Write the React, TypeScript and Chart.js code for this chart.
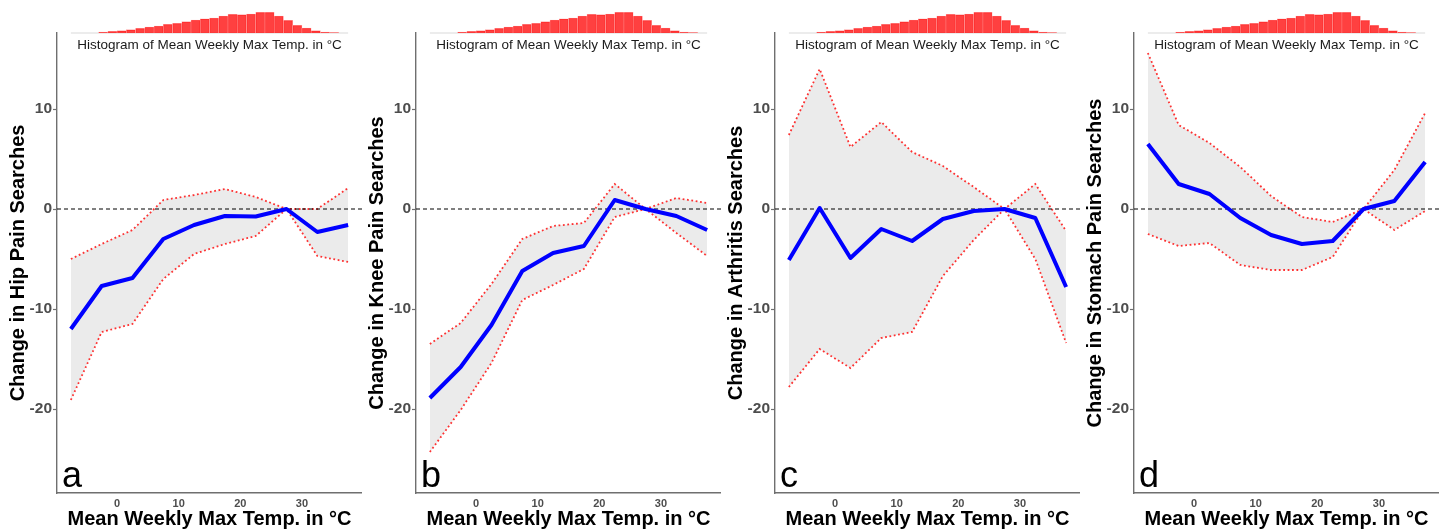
import { useEffect, useRef } from "react";
import { Chart, registerables } from "chart.js";

Chart.register(...registerables);
Chart.defaults.font.family = '"Liberation Sans", Arial, Helvetica, sans-serif';

// Temperature bin centres (°C) for the fitted curves
const tempBins = [-7.5, -2.5, 2.5, 7.5, 12.5, 17.5, 22.5, 27.5, 32.5, 37.5];
const xTickValues = [0, 10, 20, 30];
const yTickValues = [-20, -10, 0, 10];

// a: Hip pain
const hipFit = [-12.0, -7.7, -6.9, -3.0, -1.6, -0.7, -0.75, 0, -2.3, -1.6];
const hipUpper = [-5.0, -3.5, -2.1, 0.9, 1.4, 2.0, 1.2, 0, 0, 2.1];
const hipLower = [-19.1, -12.3, -11.5, -7.0, -4.5, -3.5, -2.7, 0, -4.7, -5.3];

// b: Knee pain
const kneeFit = [-18.9, -15.8, -11.6, -6.2, -4.4, -3.7, 0.9, 0, -0.7, -2.1];
const kneeUpper = [-13.5, -11.4, -7.5, -3.0, -1.7, -1.4, 2.5, 0, 1.1, 0.6];
const kneeLower = [-24.3, -20.1, -15.4, -9.1, -7.6, -6.0, -0.8, 0, -2.4, -4.7];

// c: Arthritis
const arthFit = [-5.1, 0.1, -4.9, -2.0, -3.2, -1.0, -0.2, 0, -0.9, -7.8];
const arthUpper = [7.4, 14.0, 6.2, 8.7, 5.7, 4.3, 2.2, 0, 2.5, -2.2];
const arthLower = [-17.8, -14.0, -15.9, -12.9, -12.3, -6.7, -3.1, 0, -5.0, -13.4];

// d: Stomach pain
const stomFit = [6.5, 2.5, 1.5, -0.9, -2.6, -3.5, -3.2, 0, 0.8, 4.7];
const stomUpper = [15.6, 8.4, 6.6, 4.2, 1.3, -0.8, -1.3, 0, 3.9, 9.6];
const stomLower = [-2.5, -3.7, -3.4, -5.6, -6.1, -6.1, -4.8, 0, -2.1, -0.2];

// Histogram of mean weekly max temperature (1.5 °C bins)
const histCenters = [
  -6.75, -5.25, -3.75, -2.25, -0.75, 0.75, 2.25, 3.75, 5.25, 6.75,
  8.25, 9.75, 11.25, 12.75, 14.25, 15.75, 17.25, 18.75, 20.25, 21.75,
  23.25, 24.75, 26.25, 27.75, 29.25, 30.75, 32.25, 33.75, 35.25, 36.75,
];
const histCounts = [
  0, 0, 0, 10, 17, 23, 33, 47, 60, 70,
  87, 97, 113, 130, 142, 150, 170, 187, 183, 190,
  207, 207, 170, 127, 77, 50, 23, 10, 3, 0,
];
const histBinWidth = 1.5;

const panelLetters = ["a", "b", "c", "d"];
const panelTitles = [
  "Change in Hip Pain Searches",
  "Change in Knee Pain Searches",
  "Change in Arthritis Searches",
  "Change in Stomach Pain Searches",
];
const panelSeries = [
  [hipFit, hipUpper, hipLower],
  [kneeFit, kneeUpper, kneeLower],
  [arthFit, arthUpper, arthLower],
  [stomFit, stomUpper, stomLower],
];

const panelLefts = [0, 359, 718, 1077];
const CANVAS_W = 362;
const CANVAS_H = 531;
const AXIS_COLOR = "#6f6f6f";
const CI_COLOR = "rgba(255,0,0,0.8)";

const toPts = (vals: number[]) => tempBins.map((x, i) => ({ x, y: vals[i] }));

function PanelChart({ index }: { index: number }) {
  const ref = useRef<HTMLCanvasElement>(null);
  useEffect(() => {
    const [fit, upper, lower] = panelSeries[index];
    const letter = panelLetters[index];

    const decor = {
      id: "decor",
      beforeDatasetsDraw(chart: any) {
        const { ctx, scales } = chart;
        const x = scales.x;
        const yh = scales.yh;
        const y0 = yh.getPixelForValue(0);
        ctx.save();
        ctx.strokeStyle = "#d9d9d9";
        ctx.lineWidth = 1;
        ctx.beginPath();
        ctx.moveTo(x.getPixelForValue(histCenters[0] - histBinWidth / 2), y0);
        ctx.lineTo(x.getPixelForValue(histCenters[histCenters.length - 1] + histBinWidth / 2), y0);
        ctx.stroke();
        ctx.restore();
      },
      beforeDatasetDraw(chart: any, args: any) {
        if (args.index !== 0) return;
        const { ctx, chartArea, scales } = chart;
        const py = scales.y.getPixelForValue(0);
        ctx.save();
        ctx.setLineDash([4, 3]);
        ctx.strokeStyle = "#000";
        ctx.lineWidth = 1;
        ctx.beginPath();
        ctx.moveTo(chartArea.left, py);
        ctx.lineTo(chartArea.right, py);
        ctx.stroke();
        ctx.restore();
      },
      afterDatasetsDraw(chart: any) {
        const { ctx, chartArea } = chart;
        ctx.save();
        ctx.font = '13.5px "Liberation Sans", Arial, sans-serif';
        ctx.fillStyle = "#1a1a1a";
        ctx.textAlign = "center";
        ctx.textBaseline = "alphabetic";
        ctx.fillText(
          "Histogram of Mean Weekly Max Temp. in °C",
          (chartArea.left + chartArea.right) / 2,
          chartArea.top + 16
        );
        ctx.font = '36px "Liberation Sans", Arial, sans-serif';
        ctx.fillStyle = "#000";
        ctx.textAlign = "left";
        ctx.fillText(letter, chartArea.left + 5, chartArea.bottom - 6.5);
        ctx.restore();
      },
    };

    const chart = new Chart(ref.current as HTMLCanvasElement, {
      type: "line",
      data: {
        datasets: [
          {
            label: "fit",
            data: toPts(fit),
            borderColor: "#0000ff",
            borderWidth: 4,
            pointRadius: 0,
            fill: false,
            tension: 0,
            borderJoinStyle: "round",
            yAxisID: "y",
          },
          {
            label: "upper",
            data: toPts(upper),
            borderColor: CI_COLOR,
            borderWidth: 1.8,
            borderDash: [1.8, 2.6],
            borderCapStyle: "butt",
            pointRadius: 0,
            fill: "+1",
            backgroundColor: "#ebebeb",
            tension: 0,
            yAxisID: "y",
          },
          {
            label: "lower",
            data: toPts(lower),
            borderColor: CI_COLOR,
            borderWidth: 1.8,
            borderDash: [1.8, 2.6],
            borderCapStyle: "butt",
            pointRadius: 0,
            fill: false,
            tension: 0,
            yAxisID: "y",
          },
          {
            type: "bar",
            label: "hist",
            data: histCenters.map((x, i) => ({ x, y: histCounts[i] })),
            yAxisID: "yh",
            backgroundColor: "rgba(255,0,0,0.75)",
            borderColor: "rgba(255,160,160,0.9)",
            borderWidth: 0.6,
            barPercentage: 1,
            categoryPercentage: 1,
            grouped: false,
            clip: false,
          } as any,
        ],
      },
      options: {
        responsive: false,
        animation: false,
        events: [],
        layout: { padding: { top: 33, left: 0, right: 0, bottom: 0 } },
        plugins: {
          legend: { display: false },
          tooltip: { enabled: false },
          filler: { drawTime: "beforeDatasetsDraw", propagate: false },
        } as any,
        scales: {
          x: {
            type: "linear",
            min: -9.75,
            max: 39.75,
            offset: false,
            grid: { display: false, drawTicks: false },
            border: { display: true, color: AXIS_COLOR, width: 1.4 },
            ticks: {
              font: { size: 11, weight: "bold" },
              color: "#4d4d4d",
              padding: 4,
              maxRotation: 0,
            },
            afterBuildTicks: (s: any) => {
              s.ticks = xTickValues.map((v) => ({ value: v }));
            },
            afterFit: (s: any) => {
              s.height = 38;
            },
            title: {
              display: true,
              text: "Mean Weekly Max Temp. in °C",
              font: { size: 20, weight: "bold", lineHeight: 1.2 },
              color: "#000",
              padding: { top: 0, bottom: 0 },
            },
          },
          y: {
            type: "linear",
            position: "left",
            min: -28.4,
            max: 17.6,
            grid: {
              display: true,
              drawOnChartArea: false,
              drawTicks: true,
              tickLength: 4,
              tickColor: AXIS_COLOR,
              tickWidth: 1.2,
            },
            border: { display: true, color: AXIS_COLOR, width: 1.4 },
            ticks: {
              font: { size: 15.5, weight: "bold" },
              color: "#4d4d4d",
              padding: 1,
            },
            afterBuildTicks: (s: any) => {
              s.ticks = yTickValues.map((v) => ({ value: v }));
            },
            afterFit: (s: any) => {
              s.width = 57;
            },
            title: {
              display: true,
              text: panelTitles[index],
              font: { size: 20, weight: "bold", lineHeight: 1.2 },
              color: "#000",
              padding: { top: 6, bottom: 0 },
            },
          },
          yh: {
            type: "linear",
            display: false,
            min: -4600,
            max: 0,
          },
        },
      } as any,
      plugins: [decor],
    });
    return () => chart.destroy();
  }, [index]);

  return (
    <canvas
      ref={ref}
      width={CANVAS_W}
      height={CANVAS_H}
      style={{
        position: "absolute",
        left: panelLefts[index],
        top: 0,
        width: CANVAS_W,
        height: CANVAS_H,
      }}
    />
  );
}

export default function App() {
  return (
    <div
      style={{
        position: "absolute",
        left: 0,
        top: 0,
        width: 1443,
        height: 531,
        background: "#fff",
        overflow: "hidden",
      }}
    >
      {panelLetters.map((_, i) => (
        <PanelChart key={i} index={i} />
      ))}
    </div>
  );
}
